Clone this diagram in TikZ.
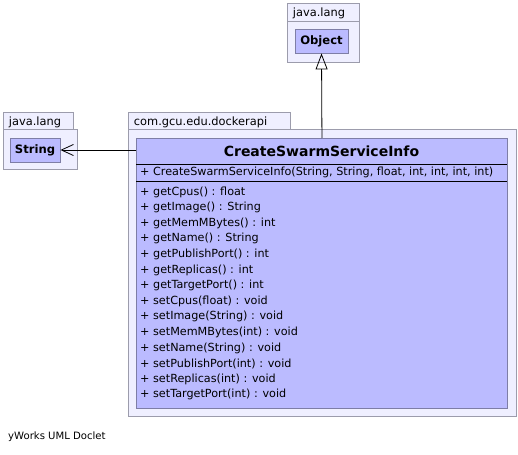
\documentclass[tikz,border=0pt]{standalone}
\usepackage{fontspec}
\setmainfont{DejaVu Sans}
\usetikzlibrary{arrows.meta,positioning}

\definecolor{pkgfill}{HTML}{EFEFFF}
\definecolor{pkgline}{HTML}{9C9CAC}
\definecolor{clsfill}{HTML}{BBBBFF}
\definecolor{clsline}{HTML}{7E7EA6}

\tikzset{
  pkgtab/.style={draw=pkgline, fill=pkgfill, line width=0.9pt, anchor=north west,
    inner sep=0pt, text depth=0pt, text width=#1, align=left, font=\fontsize{11.4}{13}\selectfont},
  pkgbody/.style={draw=pkgline, fill=pkgfill, line width=0.9pt, anchor=north west, inner sep=0pt},
  clsbox/.style={draw=clsline, fill=clsfill, line width=0.9pt, inner sep=0pt,
    font=\bfseries\fontsize{11.6}{13}\selectfont},
  member/.style={anchor=west, inner sep=0pt, font=\fontsize{11.2}{13}\selectfont},
  inherit/.style={-{Triangle[open,length=16pt,width=12pt]}, line width=0.8pt},
  assoc/.style={-{Straight Barb[length=12pt,width=11pt]}, line width=0.8pt},
}

\begin{document}
\begin{tikzpicture}[x=1pt,y=-1pt]
\useasboundingbox (0,0) rectangle (518,454);

% java.lang (Object)
\node[pkgtab=72pt, minimum height=18pt] (objtab) at (287,3) {\hspace{5.5pt}java.lang};
\node[pkgbody, minimum width=72pt, minimum height=41pt] (objpkg) at (287,21) {};
\node[clsbox, minimum width=53pt, minimum height=24pt] (obj) at (321.5,41) {Object};

% java.lang (String)
\node[pkgtab=70pt, minimum height=17pt] (strtab) at (3,112) {\hspace{5.5pt}java.lang};
\node[pkgbody, minimum width=74pt, minimum height=40pt] (strpkg) at (3,129) {};
\node[clsbox, minimum width=50pt, minimum height=24pt] (str) at (35,150) {String};

% com.gcu.edu.dockerapi
\node[pkgtab=162pt, minimum height=17pt] (maintab) at (128,112) {\hspace{5.5pt}com.gcu.edu.dockerapi};
\node[pkgbody, minimum width=388pt, minimum height=287pt] (mainpkg) at (128,129) {};
\node[clsbox, minimum width=371pt, minimum height=270pt, anchor=north west] (csi) at (136,138) {};
\node[font=\bfseries\fontsize{14}{17}\selectfont, inner sep=0pt] (csititle) at (321.5,151.5) {CreateSwarmServiceInfo};
\draw[line width=0.8pt] (136,164) -- (507,164);
\draw[line width=0.8pt] (136,181) -- (507,181);
\node[member] (ctor) at (140,172.5) {+ CreateSwarmServiceInfo(String, String, float, int, int, int, int)};

\foreach \txt [count=\i] in {getCpus() : float, getImage() : String, getMemMBytes() : int,
    getName() : String, getPublishPort() : int, getReplicas() : int, getTargetPort() : int,
    setCpus(float) : void, setImage(String) : void, setMemMBytes(int) : void,
    setName(String) : void, setPublishPort(int) : void, setReplicas(int) : void,
    setTargetPort(int) : void}
  \node[member] (m\i) at (140,176.5+15.6*\i) {+ \txt};

% relations
\draw[inherit] (csi.north) -- (obj.south);
\draw[assoc] (csi.west |- str.east) -- (str.east);

\node[member, font=\fontsize{10.1}{12}\selectfont] (doclet) at (8,437) {yWorks UML Doclet};
\end{tikzpicture}
\end{document}
